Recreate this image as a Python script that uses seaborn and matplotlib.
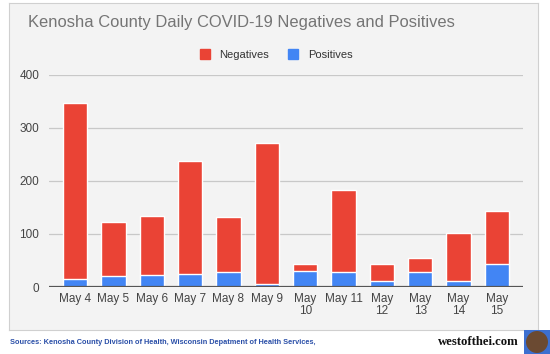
import matplotlib
matplotlib.use("Agg")
import matplotlib.pyplot as plt
import seaborn as sns
import pandas as pd
from matplotlib.patches import Ellipse
from matplotlib.lines import Line2D

days = ["May 4", "May 5", "May 6", "May 7", "May 8", "May 9", "May\n10",
        "May 11", "May\n12", "May\n13", "May\n14", "May\n15"]
positives = [15, 21, 22, 24, 29, 6, 30, 28, 12, 28, 12, 44]
negatives = [332, 102, 112, 213, 102, 266, 14, 154, 32, 26, 90, 99]
yticks = [0, 100, 200, 300, 400]

RED = "#ea4335"
BLUE = "#4285f4"
BG = "#f3f3f3"

df = pd.DataFrame({"day": days, "Positives": positives, "Negatives": negatives})
df["Total"] = df["Positives"] + df["Negatives"]

sns.set_theme(style="white")
plt.rcParams["font.family"] = ["Liberation Sans", "DejaVu Sans"]

fig = plt.figure(figsize=(5.5, 3.54), dpi=100)
fig.patch.set_facecolor("white")
W, H = 550, 354

# chart panel
bg = fig.add_axes([9 / W, 1 - 330 / H, (538 - 9) / W, (330 - 3) / H], zorder=-5)
bg.set_facecolor(BG)
bg.set_xticks([])
bg.set_yticks([])
for s in bg.spines.values():
    s.set_color("#d0d0d0")
    s.set_linewidth(0.8)

ax = fig.add_axes([49 / W, 1 - 287 / H, (523 - 49) / W, (287 - 74.7) / H], zorder=1)
ax.set_facecolor("none")
sns.barplot(data=df, x="day", y="Total", color=RED, width=0.64, saturation=1,
            ax=ax, zorder=3)
sns.barplot(data=df, x="day", y="Positives", color=BLUE, width=0.64, saturation=1,
            ax=ax, zorder=4)
ax.set_xlim(-0.68, len(days) - 1 + 0.68)
ax.set_ylim(0, 400)
ax.set_yticks(yticks)
ax.set_yticklabels([str(v) for v in yticks])
ax.set_xticks(range(len(days)))
ax.set_xticklabels(days, linespacing=1.05, multialignment="center")
ax.set_xlabel("")
ax.set_ylabel("")
for s in ax.spines.values():
    s.set_visible(False)
ax.grid(axis="y", color="#c8c8c8", linewidth=0.9, zorder=1)
ax.grid(axis="x", visible=False)
ax.set_axisbelow(True)
ax.axhline(0, color="#555555", linewidth=1.6, zorder=5)
ax.tick_params(axis="both", length=0, labelsize=8.5, colors="#444444")
ax.tick_params(axis="y", pad=7)
ax.tick_params(axis="x", pad=4)

# title
fig.text(28 / W, 1 - 23 / H, "Kenosha County Daily COVID-19 Negatives and Positives",
         fontsize=11.9, color="#757575", va="center", ha="left")

# legend
handles = [Line2D([], [], marker="s", linestyle="", markersize=7.5, color=RED),
           Line2D([], [], marker="s", linestyle="", markersize=7.5, color=BLUE)]
fig.legend(handles, ["Negatives", "Positives"], loc="center",
           bbox_to_anchor=(273 / W, 1 - 55 / H), ncol=2, frameon=False,
           fontsize=8, handletextpad=0.3, columnspacing=1.2,
           labelcolor="#333333")

# footer
fig.text(10 / W, 1 - 343 / H,
         "Sources: Kenosha County Division of Health, Wisconsin Depatment of Health Services,",
         fontsize=5.3, color="#2a4fa8", fontweight="bold", va="center", ha="left")
fig.text(519 / W, 1 - 342 / H, "westofthei.com", fontsize=9.2, color="#111111",
         fontweight="bold", family=["Liberation Serif", "DejaVu Serif"],
         va="center", ha="right")
logo = fig.add_axes([524 / W, 0, 26 / W, 24 / H], zorder=2)
logo.set_facecolor("#3c6fd0")
logo.set_xlim(0, 26)
logo.set_ylim(0, 24)
logo.set_xticks([])
logo.set_yticks([])
for s in logo.spines.values():
    s.set_visible(False)
logo.add_patch(Ellipse((13, 12), 22, 22, facecolor="#6b4a32", edgecolor="none"))

fig.savefig("out.png", dpi=100, facecolor="white")
